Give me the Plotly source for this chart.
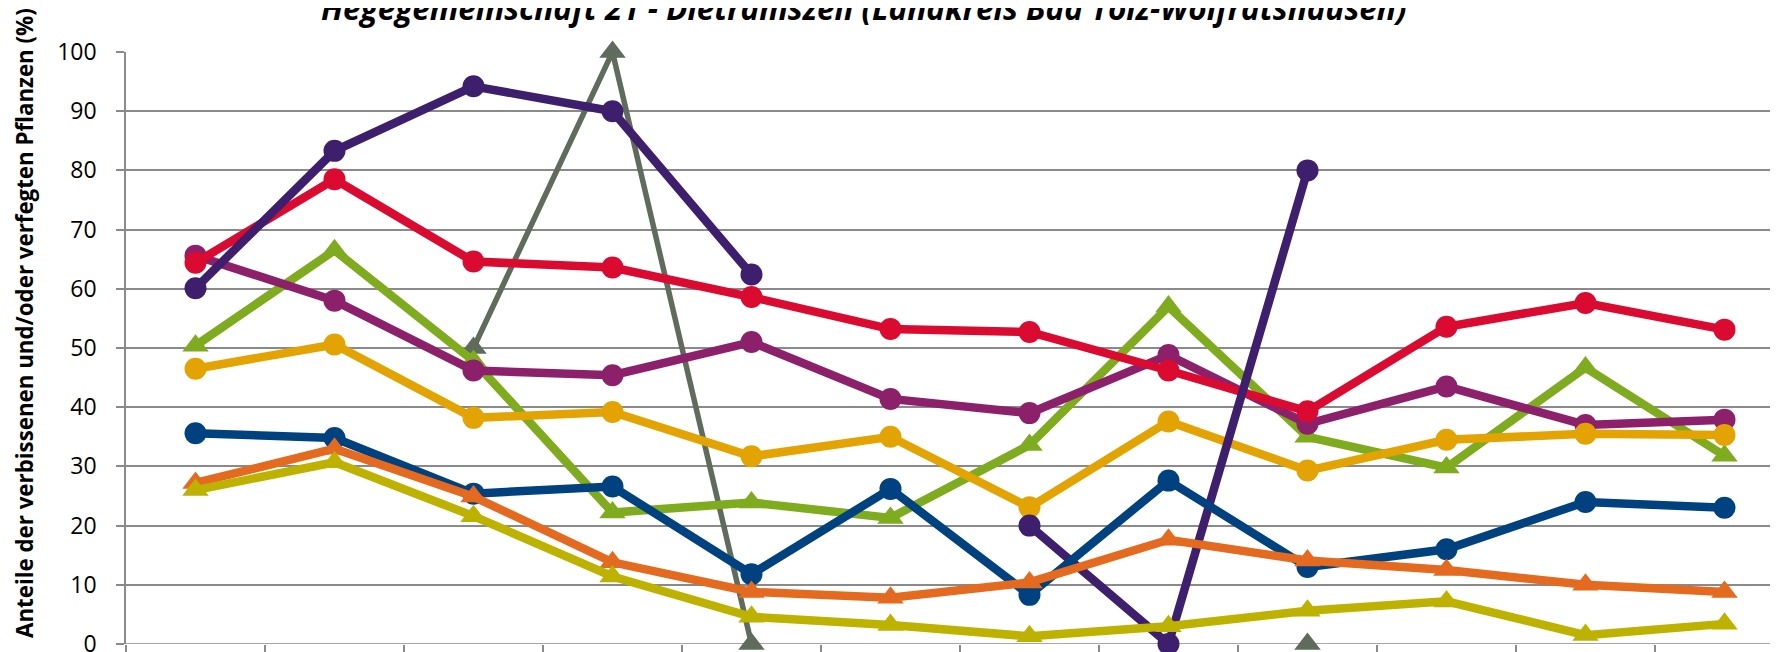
import plotly.graph_objects as go

# category index positions (x-axis labels are cropped away in the reference)
categories = list(range(12))

# series values (%), None = no data
s_grey = [None, None, 50, 100, 0, None, None, None, 0, None, None, None]
s_green = [50.4, 66.5, 47.8, 22.2, 23.9, 21.3, 33.6, 57.0, 35.0, 29.8, 46.7, 31.8]
s_magenta = [65.6, 58.0, 46.2, 45.4, 51.0, 41.4, 39.0, 48.8, 37.2, 43.5, 37.0, 37.9]
s_gold = [46.5, 50.6, 38.2, 39.2, 31.7, 35.0, 23.1, 37.6, 29.3, 34.5, 35.5, 35.3]
s_red = [64.4, 78.5, 64.6, 63.6, 58.6, 53.2, 52.7, 46.2, 39.3, 53.6, 57.6, 53.1]
s_purple = [60.1, 83.3, 94.2, 90.0, 62.4, None, 20.0, 0, 80.0, None, None, None]
s_blue = [35.6, 34.8, 25.4, 26.6, 11.8, 26.2, 8.3, 27.6, 13.0, 16.0, 24.0, 23.0]
s_orange = [27.2, 33.0, 24.9, 13.8, 8.8, 7.8, 10.4, 17.6, 14.1, 12.5, 10.0, 8.8]
s_olive = [26.0, 30.7, 21.6, 11.4, 4.6, 3.2, 1.3, 3.0, 5.6, 7.2, 1.5, 3.4]

y_ticks = [0, 10, 20, 30, 40, 50, 60, 70, 80, 90, 100]
title_text = "Hegegemeinschaft 21 - Dietramszell (Landkreis Bad Tölz-Wolfratshausen)"
ytitle_text = "Anteile der verbissenen und/oder verfegten Pflanzen (%)"

series = [
    (s_grey, "#5F6B5B", "triangle-up", 5.5),
    (s_green, "#7FAB1F", "triangle-up", 8.5),
    (s_magenta, "#8C206A", "circle", 8.5),
    (s_gold, "#E3A302", "circle", 8.5),
    (s_red, "#DA0A30", "circle", 8.5),
    (s_purple, "#3E1F6E", "circle", 8.5),
    (s_blue, "#00427F", "circle", 8.5),
    (s_orange, "#E36A1F", "triangle-up", 8.5),
    (s_olive, "#BDB200", "triangle-up", 8.5),
]

fig = go.Figure()
for vals, col, sym, lw in series:
    fig.add_trace(go.Scatter(
        x=categories, y=vals, mode="lines+markers",
        line=dict(color=col, width=lw),
        marker=dict(symbol=sym, size=22 if sym == "circle" else 23, color=col),
        connectgaps=False, cliponaxis=False, showlegend=False,
    ))

# page body has an 8px margin: plot area target (viewport px) left 126, top 52, bottom 644
grid = "#8A8A8A"
L, T, B = 118, 44, 16
W, H = 1770, 652
ph = H - T - B
pw = W - L

def px(xv):
    return (xv - 8 - L) / pw

def py(yv):
    return (H - B - (yv - 8)) / ph

fig.update_layout(
    width=W, height=H,
    margin=dict(l=L, r=0, t=T, b=B),
    paper_bgcolor="white", plot_bgcolor="white",
    font=dict(family="Open Sans, Calibri, sans-serif", color="black"),
    xaxis=dict(
        range=[-0.5, 11.385], showgrid=False, zeroline=False,
        tickvals=[i - 0.5 for i in range(13)], ticktext=[""] * 13,
        ticks="outside", ticklen=8, tickcolor=grid, tickwidth=1.5,
        showline=False,
    ),
    yaxis=dict(
        range=[0, 100], tickvals=y_ticks, showgrid=True, gridcolor=grid, gridwidth=1.5,
        zeroline=False, showline=True, linecolor=grid, linewidth=1.5,
        ticks="outside", ticklen=8, tickcolor=grid, tickwidth=1.5,
        tickfont=dict(size=23, family="Open Sans, sans-serif", color="black"),
        ticklabelstandoff=15, ticklabeloverflow="allow",
    ),
    annotations=[
        dict(text=title_text, xref="paper", yref="paper", x=px(864), y=py(8),
             xanchor="center", yanchor="middle", showarrow=False,
             font=dict(size=31.5, family="Open Sans, sans-serif", color="black", weight="bold", style="italic")),
        dict(text=ytitle_text, xref="paper", yref="paper", x=px(24), y=py(323),
             xanchor="center", yanchor="middle", showarrow=False, textangle=-90,
             font=dict(size=22.3, family="Open Sans, sans-serif", color="black", weight="bold")),
    ],
)
# x-axis baseline at 0
fig.add_shape(type="line", xref="paper", yref="y", x0=0, x1=1, y0=0, y1=0,
              line=dict(color=grid, width=1.5), layer="below")

fig.write_html("out.html")
